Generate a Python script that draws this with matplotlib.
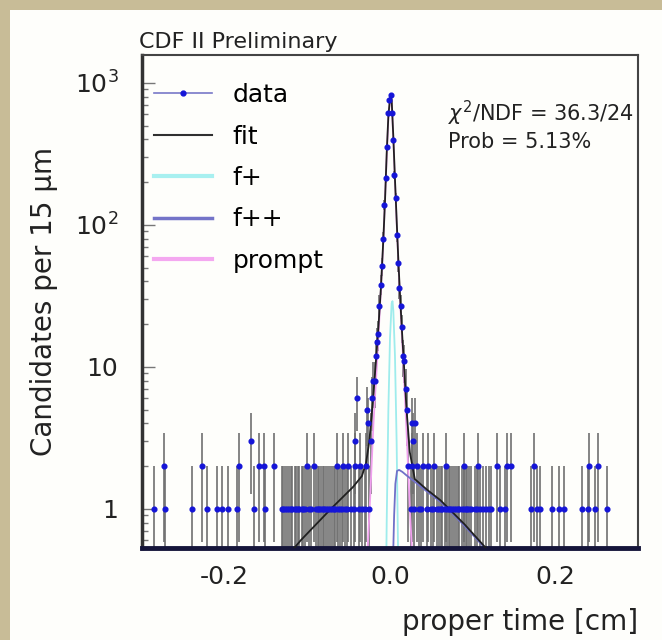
import numpy as np
import matplotlib.pyplot as plt
from matplotlib.lines import Line2D
from matplotlib.patches import Rectangle
from matplotlib.ticker import LogLocator, NullFormatter

plt.rcParams['font.family'] = 'DejaVu Sans'
plt.rcParams['axes.unicode_minus'] = False
plt.rcParams['mathtext.fontset'] = 'dejavusans'

# bins (15 um wide) holding one candidate
ones_x = [-0.286, -0.272, -0.239, -0.221, -0.209, -0.203, -0.196, -0.1845, -0.164,
          -0.1515, -0.131, -0.1295, -0.127, -0.1245, -0.122, -0.1195, -0.118,
          -0.1155, -0.114, -0.1115, -0.110, -0.107, -0.1055, -0.1025, -0.0985,
          -0.0955, -0.090, -0.0875, -0.086, -0.0835, -0.081, -0.0795, -0.077,
          -0.0755, -0.073, -0.0705, -0.068, -0.0665, -0.0625, -0.060, -0.0575,
          -0.055, -0.052, -0.047, -0.0435, -0.038, -0.034, -0.0305, -0.025,
          0.0255, 0.0295, 0.0345, 0.038, 0.0445, 0.050, 0.0525, 0.057, 0.0595,
          0.062, 0.0635, 0.066, 0.0685, 0.071, 0.0725, 0.075, 0.0775, 0.080, 0.0825,
          0.084, 0.0865, 0.089, 0.0915, 0.093, 0.096, 0.0985, 0.1025, 0.1055, 0.109,
          0.1125, 0.116, 0.1195, 0.122, 0.1325, 0.139, 0.170, 0.1775, 0.182, 0.196,
          0.204, 0.211, 0.232, 0.2395, 0.2475, 0.263]
# bins holding two candidates
twos_x = [-0.273, -0.228, -0.183, -0.159, -0.153, -0.140, -0.101, -0.092, -0.064,
          -0.057, -0.051, -0.042, -0.036, -0.029,
          0.022, 0.027, 0.033, 0.040, 0.046, 0.053, 0.068, 0.090, 0.107, 0.129,
          0.142, 0.146, 0.174, 0.241, 0.252]
# bins with more candidates (tails and prompt peak)
core_x = [-0.168, -0.04275, -0.03975, -0.02775, -0.02625, -0.02325, -0.02175,
          -0.02025, -0.01875, -0.01725, -0.01575, -0.01425, -0.01275, -0.01125,
          -0.00975, -0.00825, -0.00675, -0.00525, -0.00375, -0.00225, -0.00075,
          0.00075, 0.00225, 0.00375, 0.00525, 0.00675, 0.00825, 0.00975, 0.01125,
          0.01275, 0.01425, 0.01575, 0.01725, 0.01875, 0.02025, 0.02625, 0.02775,
          0.03075]
core_n = [3, 3, 6, 5, 4, 3, 6, 8, 8, 12, 15, 17, 27, 38, 51, 80, 138, 212, 355, 612,
          760, 823, 612, 397, 225, 154, 85, 54, 36, 27, 19, 12, 11, 7, 5, 4, 3, 4]

# fitted curves
fit_x = [-0.140, -0.108, -0.070, -0.045, -0.034, -0.029, -0.025, -0.021, -0.017,
         -0.014, -0.011, -0.008, -0.006, -0.004, -0.002, 0.000, 0.001, 0.002, 0.004,
         0.006, 0.008, 0.010, 0.012, 0.014, 0.017, 0.020, 0.024, 0.030, 0.045, 0.061,
         0.090, 0.116, 0.140]
fit_y = [0.36, 0.60, 1.02, 1.42, 1.70, 2.1, 3.0, 5.5, 11, 19, 36, 80, 150, 320, 580,
         780, 820, 760, 420, 210, 110, 58, 33, 20, 10, 5.0, 2.5, 1.62, 1.36, 1.15,
         0.78, 0.53, 0.39]
fplus_x = [-0.006, -0.004, -0.002, 0.000, 0.002, 0.003, 0.004, 0.006, 0.008, 0.010,
           0.012]
fplus_y = [0.07, 0.8, 4.9, 16, 28, 29, 25, 12, 3, 0.4, 0.03]
fpp_x = [0.0035, 0.005, 0.0065, 0.0085, 0.011, 0.015, 0.020, 0.030, 0.045, 0.061,
         0.090, 0.116, 0.140]
fpp_y = [0.4, 0.9, 1.5, 1.85, 1.88, 1.82, 1.72, 1.55, 1.32, 1.12, 0.76, 0.52, 0.38]
prompt_x = [-0.028, -0.024, -0.020, -0.016, -0.012, -0.008, -0.004, -0.002, 0.000,
            0.001, 0.002, 0.004, 0.008, 0.012, 0.016, 0.020, 0.024, 0.028]
prompt_y = [0.4, 1.2, 4.0, 10, 27, 78, 300, 560, 760, 800, 740, 400, 105, 31, 11,
            3.5, 1.0, 0.35]

x = np.array(ones_x + twos_x + core_x)
n = np.array([1] * len(ones_x) + [2] * len(twos_x) + core_n, dtype=float)
err = np.sqrt(n)
lo = n - np.maximum(n - err, 0.01)

fig = plt.figure(figsize=(6.62, 6.4), dpi=100)
fig.patch.set_facecolor('#c8bc97')
fig.patches.append(Rectangle((10 / 662, 0), 1, 1 - 10 / 640, transform=fig.transFigure,
                             facecolor='#fefefb', edgecolor='none', zorder=-5))

ax = fig.add_axes([142 / 662, 1 - 548 / 640, 496 / 662, 493 / 640])
ax.set_facecolor('#fefefb')
ax.set_yscale('log')

ax.errorbar(x, n, yerr=[lo, err], fmt='none', ecolor='#707070', elinewidth=1.2, zorder=1)
ax.plot(fplus_x, fplus_y, color='#9eecec', lw=1.3, zorder=2)
ax.plot(prompt_x, prompt_y, color='#f0a0ee', lw=1.3, zorder=2)
ax.plot(fpp_x, fpp_y, color='#7070c8', lw=1.3, zorder=2)
ax.plot(fit_x, fit_y, color='#202020', lw=1.3, zorder=3)
ax.plot(x, n, 'o', ms=3.4, color='#1515d8', zorder=4)

ax.set_xlim(-0.3, 0.3)
ax.set_ylim(0.53, 1570)

ax.set_xticks([-0.2, 0.0, 0.2])
ax.set_xticklabels(['-0.2', '0.0', '0.2'])
ax.tick_params(axis='x', length=0, pad=12, labelsize=18, colors='#222222')
ax.set_yticks([1, 10, 100, 1000])
ax.set_yticklabels(['1', '10', r'$10^{2}$', r'$10^{3}$'])
ax.yaxis.set_minor_locator(LogLocator(subs=range(2, 10)))
ax.yaxis.set_minor_formatter(NullFormatter())
ax.tick_params(axis='y', which='major', direction='in', length=9, width=1,
               color='#777777', pad=17, labelsize=18, labelcolor='#222222')
ax.tick_params(axis='y', which='minor', direction='in', length=4.5, width=1,
               color='#777777')

ax.spines['left'].set_linewidth(2.5)
ax.spines['left'].set_color('#333333')
ax.spines['bottom'].set_linewidth(3.5)
ax.spines['bottom'].set_color('#15153a')
ax.spines['top'].set_linewidth(1.5)
ax.spines['top'].set_color('#444444')
ax.spines['right'].set_linewidth(1.5)
ax.spines['right'].set_color('#444444')

ax.set_xlabel('proper time [cm]', fontsize=20, loc='right', labelpad=14, color='#222222')
ax.set_ylabel('Candidates per 15 \u00b5m', fontsize=20, color='#222222')
ax.yaxis.set_label_coords(-0.17, 0.5)

handles = [
    Line2D([], [], color='#7878c8', lw=1.2, marker='o', ms=3.5, mfc='#1515d8', mec='#1515d8'),
    Line2D([], [], color='#303030', lw=1.5),
    Line2D([], [], color='#a8f0f0', lw=3),
    Line2D([], [], color='#7474c8', lw=2.5),
    Line2D([], [], color='#f4a8f0', lw=3),
]
ax.legend(handles, ['data', 'fit', 'f+', 'f++', 'prompt'], loc='upper left',
          bbox_to_anchor=(154 / 662, 1 - 83 / 640), bbox_transform=fig.transFigure,
          frameon=False, fontsize=18, borderpad=0, borderaxespad=0,
          handlelength=2.3, handletextpad=0.85, labelspacing=0.7)

fig.text(139 / 662, 1 - 48 / 640, 'CDF II Preliminary', fontsize=16, va='baseline',
         color='#222222')
fig.text(448 / 662, 1 - 113 / 640, r'$\chi^{2}$/NDF = 36.3/24', fontsize=15,
         va='center', color='#222222')
fig.text(448 / 662, 1 - 142 / 640, 'Prob = 5.13%', fontsize=15, va='center',
         color='#222222')

fig.savefig('out.png', dpi=100, facecolor=fig.get_facecolor())
